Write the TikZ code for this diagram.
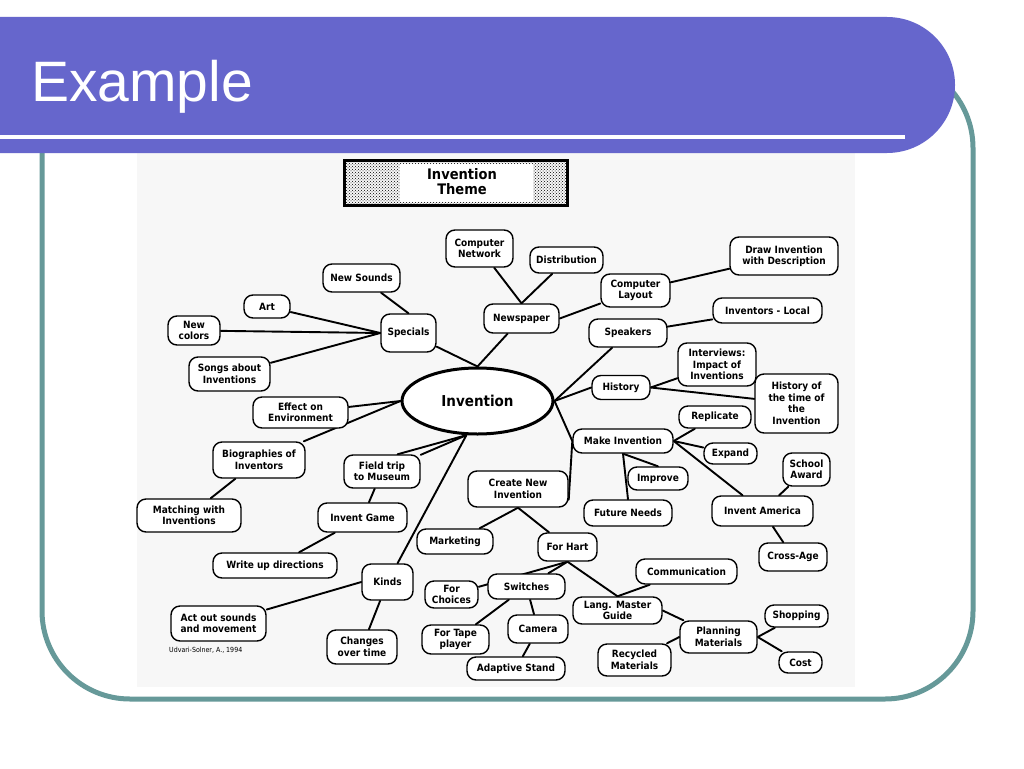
\documentclass[tikz,border=0pt]{standalone}
\usepackage{fontspec}
\setmainfont{Liberation Sans}
\newfontfamily\titlefont{Liberation Sans}
\newfontfamily\mapfont{DejaVu Sans Condensed Bold}
\newfontfamily\creditfont{DejaVu Sans Condensed}
\usetikzlibrary{patterns,shapes.geometric}
\definecolor{bannerc}{RGB}{102,102,204}
\definecolor{framec}{RGB}{102,153,153}
\definecolor{scanc}{RGB}{247,247,247}
\pgfdeclarelayer{back}
\pgfdeclarelayer{background}
\pgfsetlayers{back,background,main}
\tikzset{
  mbox/.style={draw, line width=1.4pt, rounded corners=9pt, fill=white, align=center,
    inner sep=0pt, font=\mapfont\fontsize{10}{11.5}\selectfont},
  link/.style={line width=1.9pt, line cap=round},
}
\begin{document}
\begin{tikzpicture}[x=1pt,y=-1pt]
\useasboundingbox (0,0) rectangle (1024,768);
\begin{pgfonlayer}{back}
\fill[white] (0,0) rectangle (1024,768);
\fill[scanc] (137,153) rectangle (855,687);
\end{pgfonlayer}
% slide frame and banner
\draw[framec, line width=5pt, rounded corners=88pt] (42,60) rectangle (973,699);
\fill[bannerc, rounded corners=68pt] (-100,17) rectangle (955,153);
\fill[white] (0,135) rectangle (905,139);
\node[anchor=base west, inner sep=0pt, text=white, font=\titlefont\fontsize{57}{60}\selectfont] (ttl) at (31,101) {Example};
% title box
\node[draw, line width=3pt, pattern=crosshatch dots, pattern color=black, minimum width=223pt, minimum height=45pt, inner sep=0pt] (tbox) at (455.5,182.5) {};
\node[fill=white, minimum width=133pt, minimum height=38pt, inner sep=0pt] (twhite) at (466.5,183) {};
\node[align=center, inner sep=0pt, font=\mapfont\fontsize{14.5}{15}\selectfont] (ttext) at (462,182) {Invention\\Theme};
% central ellipse
\node[draw, ellipse, line width=3pt, fill=white, minimum width=151pt, minimum height=66pt, inner sep=0pt, font=\mapfont\fontsize{15}{16}\selectfont] (inv) at (477.5,401) {Invention};
% nodes
\node[mbox, minimum width=67pt, minimum height=37pt] (cnet) at (479.5,248.5) {Computer\\Network};
\node[mbox, minimum width=73pt, minimum height=26pt] (dist) at (566.5,260) {Distribution};
\node[mbox, minimum width=75pt, minimum height=29pt] (news) at (521.5,318.5) {Newspaper};
\node[mbox, minimum width=69pt, minimum height=33pt] (clay) at (635.5,290.5) {Computer\\Layout};
\node[mbox, minimum width=108pt, minimum height=38pt] (drw) at (784,256) {Draw Invention\\with Description};
\node[mbox, minimum width=109pt, minimum height=25pt] (loc) at (767.5,310.5) {Inventors - Local};
\node[mbox, minimum width=78pt, minimum height=28pt] (spk) at (628,333) {Speakers};
\node[mbox, minimum width=78pt, minimum height=43pt] (intv) at (717,364.5) {Interviews:\\Impact of\\Inventions};
\node[mbox, minimum width=58pt, minimum height=24pt] (hist) at (621,387.5) {History};
\node[mbox, minimum width=83pt, minimum height=59pt] (htime) at (796.5,403.5) {History of\\the time of\\the\\Invention};
\node[mbox, minimum width=72pt, minimum height=22pt] (repl) at (715,417) {Replicate};
\node[mbox, minimum width=100pt, minimum height=24pt] (make) at (623,441) {Make Invention};
\node[mbox, minimum width=53pt, minimum height=21pt] (expd) at (730.5,453.5) {Expand};
\node[mbox, minimum width=47pt, minimum height=33pt] (award) at (806.5,469.5) {School\\Award};
\node[mbox, minimum width=60pt, minimum height=23pt] (impr) at (658,478.5) {Improve};
\node[mbox, minimum width=100pt, minimum height=36pt] (cni) at (518,489) {Create New\\Invention};
\node[mbox, minimum width=88pt, minimum height=26pt] (fut) at (628,513) {Future Needs};
\node[mbox, minimum width=101pt, minimum height=30pt] (ia) at (762.5,511) {Invent America};
\node[mbox, minimum width=76pt, minimum height=25pt] (mkt) at (455,541.5) {Marketing};
\node[mbox, minimum width=59pt, minimum height=28pt] (hart) at (567.5,547) {For Hart};
\node[mbox, minimum width=68pt, minimum height=28pt] (cross) at (793,557) {Cross-Age};
\node[mbox, minimum width=101pt, minimum height=25pt] (comm) at (686.5,571.5) {Communication};
\node[mbox, minimum width=53pt, minimum height=27pt] (choice) at (451.5,594.5) {For\\Choices};
\node[mbox, minimum width=77pt, minimum height=25pt] (sw) at (526.5,586.5) {Switches};
\node[mbox, minimum width=89pt, minimum height=27pt] (lang) at (617.5,610.5) {Lang. Master\\Guide};
\node[mbox, minimum width=63pt, minimum height=22pt] (shop) at (796.5,616) {Shopping};
\node[mbox, minimum width=60pt, minimum height=28pt] (cam) at (538,629) {Camera};
\node[mbox, minimum width=77pt, minimum height=32pt] (plan) at (718.5,637) {Planning\\Materials};
\node[mbox, minimum width=67pt, minimum height=29pt] (tape) at (455.5,639.5) {For Tape\\player};
\node[mbox, minimum width=73pt, minimum height=32pt] (recy) at (634.5,660) {Recycled\\Materials};
\node[mbox, minimum width=43pt, minimum height=21pt] (cost) at (800.5,662.5) {Cost};
\node[mbox, minimum width=98pt, minimum height=23pt] (adapt) at (516,668.5) {Adaptive Stand};
\node[mbox, minimum width=77pt, minimum height=28pt] (nsnd) at (361.5,278) {New Sounds};
\node[mbox, minimum width=46pt, minimum height=23pt] (art) at (267,306.5) {Art};
\node[mbox, minimum width=52pt, minimum height=29pt] (ncol) at (194,330.5) {New\\colors};
\node[mbox, minimum width=55pt, minimum height=38pt] (spec) at (408.5,333) {Specials};
\node[mbox, minimum width=81pt, minimum height=34pt] (songs) at (229.5,374) {Songs about\\Inventions};
\node[mbox, minimum width=95pt, minimum height=31pt] (effect) at (300.5,412.5) {Effect on\\Environment};
\node[mbox, minimum width=92pt, minimum height=36pt] (bio) at (259,460) {Biographies of\\Inventors};
\node[mbox, minimum width=76pt, minimum height=33pt] (field) at (382,471.5) {Field trip\\to Museum};
\node[mbox, minimum width=104pt, minimum height=33pt] (match) at (189,515.5) {Matching with\\Inventions};
\node[mbox, minimum width=89pt, minimum height=29pt] (game) at (362.5,517.5) {Invent Game};
\node[mbox, minimum width=124pt, minimum height=25pt] (write) at (275,565.5) {Write up directions};
\node[mbox, minimum width=51pt, minimum height=36pt] (kinds) at (387.5,582) {Kinds};
\node[mbox, minimum width=95pt, minimum height=35pt] (act) at (218.5,623.5) {Act out sounds\\and movement};
\node[mbox, minimum width=70pt, minimum height=34pt] (chg) at (362,647) {Changes\\over time};
\node[anchor=west, inner sep=0pt, font=\creditfont\fontsize{7}{8}\selectfont] (credit) at (169,650) {Udvari-Solner, A., 1994};
% connectors
\begin{pgfonlayer}{background}
\draw[link] (inv.90) -- (spec);
\draw[link] (spec.north) -- (nsnd);
\draw[link] (spec.west) -- (art);
\draw[link] (spec.west) -- (ncol);
\draw[link] (spec.west) -- (songs);
\draw[link] (inv.90) -- (news);
\draw[link] (news.north) -- (cnet);
\draw[link] (news.north) -- (dist);
\draw[link] (news.east) -- (clay);
\draw[link] (clay) -- (drw);
\draw[link] (inv.0) -- (spk);
\draw[link] (inv.0) -- (hist.west);
\draw[link] (inv.0) -- (make.west);
\draw[link] (spk) -- (loc);
\draw[link] (hist.east) -- (intv);
\draw[link] (hist.east) -- (htime);
\draw[link] (make.east) -- (repl);
\draw[link] (make.east) -- (expd);
\draw[link] (make.east) -- (ia);
\draw[link] (make.south) -- (impr.north);
\draw[link] (make.south) -- (fut.north);
\draw[link] (make.west) -- (cni.-12);
\draw[link] (ia) -- (award);
\draw[link] (ia) -- (cross);
\draw[link] (cni.south) -- (mkt);
\draw[link] (cni.south) -- (hart);
\draw[link] (hart.south) -- (choice);
\draw[link] (hart.south) -- (sw);
\draw[link] (hart.south) -- (lang.north);
\draw[link] (sw) -- (tape);
\draw[link] (sw) -- (cam);
\draw[link] (cam) -- (adapt);
\draw[link] (lang.north) -- (comm);
\draw[link] (lang.east) -- (plan);
\draw[link] (plan.west) -- (recy);
\draw[link] (plan.east) -- (shop);
\draw[link] (plan.east) -- (cost);
\draw[link] (inv.180) -- (effect);
\draw[link] (inv.180) -- (bio);
\draw[link] (bio) -- (match);
\draw[link] (inv.-108) -- (field);
\draw[link] (inv.-108) -- (field.48);
\draw[link] (inv.-108) -- (kinds);
\draw[link] (field) -- (game);
\draw[link] (game) -- (write);
\draw[link] (kinds.west) -- (act);
\draw[link] (kinds) -- (chg);
\end{pgfonlayer}
\end{tikzpicture}
\end{document}
